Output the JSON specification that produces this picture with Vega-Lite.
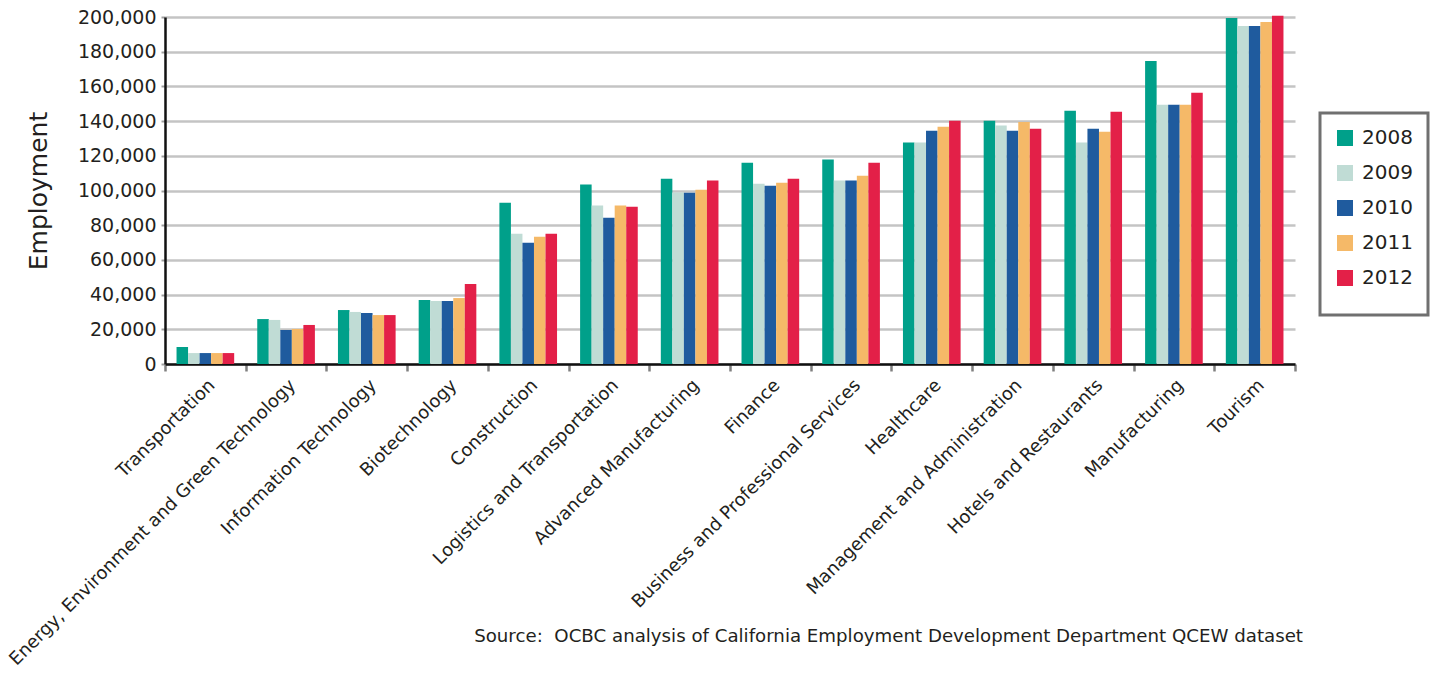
{
  "$schema": "https://vega.github.io/schema/vega-lite/v6.json",
  "autosize": "none",
  "width": 1130,
  "height": 347,
  "padding": {"left": 165, "top": 17, "right": 137, "bottom": 311},
  "background": "white",
  "config": {
    "font": "DejaVu Sans",
    "view": {"stroke": null}
  },
  "title": {
    "text": "Source:\u00a0 OCBC analysis of California Employment Development Department QCEW dataset",
    "orient": "bottom",
    "anchor": "end",
    "frame": "group",
    "offset": -41,
    "dx": 8,
    "fontSize": 18.2,
    "fontWeight": "normal",
    "color": "#231f20",
    "font": "DejaVu Sans"
  },
  "data": {
    "values": [
      {"sector": "Transportation", "year": "2008", "jobs": 9800},
      {"sector": "Transportation", "year": "2009", "jobs": 6300},
      {"sector": "Transportation", "year": "2010", "jobs": 6300},
      {"sector": "Transportation", "year": "2011", "jobs": 6300},
      {"sector": "Transportation", "year": "2012", "jobs": 6300},
      {"sector": "Energy, Environment and Green Technology", "year": "2008", "jobs": 25900},
      {"sector": "Energy, Environment and Green Technology", "year": "2009", "jobs": 25400},
      {"sector": "Energy, Environment and Green Technology", "year": "2010", "jobs": 19600},
      {"sector": "Energy, Environment and Green Technology", "year": "2011", "jobs": 20200},
      {"sector": "Energy, Environment and Green Technology", "year": "2012", "jobs": 22500},
      {"sector": "Information Technology", "year": "2008", "jobs": 31100},
      {"sector": "Information Technology", "year": "2009", "jobs": 30000},
      {"sector": "Information Technology", "year": "2010", "jobs": 29400},
      {"sector": "Information Technology", "year": "2011", "jobs": 28200},
      {"sector": "Information Technology", "year": "2012", "jobs": 28200},
      {"sector": "Biotechnology", "year": "2008", "jobs": 36900},
      {"sector": "Biotechnology", "year": "2009", "jobs": 36300},
      {"sector": "Biotechnology", "year": "2010", "jobs": 36300},
      {"sector": "Biotechnology", "year": "2011", "jobs": 38000},
      {"sector": "Biotechnology", "year": "2012", "jobs": 46100},
      {"sector": "Construction", "year": "2008", "jobs": 93000},
      {"sector": "Construction", "year": "2009", "jobs": 75100},
      {"sector": "Construction", "year": "2010", "jobs": 69900},
      {"sector": "Construction", "year": "2011", "jobs": 73400},
      {"sector": "Construction", "year": "2012", "jobs": 75100},
      {"sector": "Logistics and Transportation", "year": "2008", "jobs": 103400},
      {"sector": "Logistics and Transportation", "year": "2009", "jobs": 91300},
      {"sector": "Logistics and Transportation", "year": "2010", "jobs": 84300},
      {"sector": "Logistics and Transportation", "year": "2011", "jobs": 91300},
      {"sector": "Logistics and Transportation", "year": "2012", "jobs": 90700},
      {"sector": "Advanced Manufacturing", "year": "2008", "jobs": 106800},
      {"sector": "Advanced Manufacturing", "year": "2009", "jobs": 98900},
      {"sector": "Advanced Manufacturing", "year": "2010", "jobs": 98700},
      {"sector": "Advanced Manufacturing", "year": "2011", "jobs": 100500},
      {"sector": "Advanced Manufacturing", "year": "2012", "jobs": 105700},
      {"sector": "Finance", "year": "2008", "jobs": 116000},
      {"sector": "Finance", "year": "2009", "jobs": 103900},
      {"sector": "Finance", "year": "2010", "jobs": 102800},
      {"sector": "Finance", "year": "2011", "jobs": 104500},
      {"sector": "Finance", "year": "2012", "jobs": 106800},
      {"sector": "Business and Professional Services", "year": "2008", "jobs": 117800},
      {"sector": "Business and Professional Services", "year": "2009", "jobs": 105700},
      {"sector": "Business and Professional Services", "year": "2010", "jobs": 105700},
      {"sector": "Business and Professional Services", "year": "2011", "jobs": 108500},
      {"sector": "Business and Professional Services", "year": "2012", "jobs": 116000},
      {"sector": "Healthcare", "year": "2008", "jobs": 127600},
      {"sector": "Healthcare", "year": "2009", "jobs": 127600},
      {"sector": "Healthcare", "year": "2010", "jobs": 134500},
      {"sector": "Healthcare", "year": "2011", "jobs": 136800},
      {"sector": "Healthcare", "year": "2012", "jobs": 140200},
      {"sector": "Management and Administration", "year": "2008", "jobs": 140200},
      {"sector": "Management and Administration", "year": "2009", "jobs": 137400},
      {"sector": "Management and Administration", "year": "2010", "jobs": 134500},
      {"sector": "Management and Administration", "year": "2011", "jobs": 139500},
      {"sector": "Management and Administration", "year": "2012", "jobs": 135600},
      {"sector": "Hotels and Restaurants", "year": "2008", "jobs": 146000},
      {"sector": "Hotels and Restaurants", "year": "2009", "jobs": 127600},
      {"sector": "Hotels and Restaurants", "year": "2010", "jobs": 135600},
      {"sector": "Hotels and Restaurants", "year": "2011", "jobs": 133900},
      {"sector": "Hotels and Restaurants", "year": "2012", "jobs": 145400},
      {"sector": "Manufacturing", "year": "2008", "jobs": 174700},
      {"sector": "Manufacturing", "year": "2009", "jobs": 149400},
      {"sector": "Manufacturing", "year": "2010", "jobs": 149400},
      {"sector": "Manufacturing", "year": "2011", "jobs": 149400},
      {"sector": "Manufacturing", "year": "2012", "jobs": 156300},
      {"sector": "Tourism", "year": "2008", "jobs": 199400},
      {"sector": "Tourism", "year": "2009", "jobs": 194800},
      {"sector": "Tourism", "year": "2010", "jobs": 194800},
      {"sector": "Tourism", "year": "2011", "jobs": 197100},
      {"sector": "Tourism", "year": "2012", "jobs": 200700}
    ]
  },
  "mark": {"type": "bar", "clip": false},
  "encoding": {
    "x": {
      "field": "sector",
      "type": "nominal",
      "sort": null,
      "scale": {"paddingInner": 0, "paddingOuter": 0},
      "axis": {
        "title": null,
        "labelAngle": -45,
        "labelAlign": "right",
        "labelBaseline": "top",
        "labelFontSize": 18,
        "labelColor": "#231f20",
        "labelPadding": 5,
        "labelLimit": 600,
        "tickBand": "extent",
        "tickColor": "#808080",
        "tickSize": 7,
        "tickWidth": 2.5,
        "domainColor": "#111111",
        "domainWidth": 2.5,
        "grid": false
      }
    },
    "xOffset": {
      "field": "year",
      "type": "nominal",
      "scale": {"paddingInner": 0, "paddingOuter": 1.04}
    },
    "y": {
      "field": "jobs",
      "type": "quantitative",
      "scale": {"domain": [0, 200000], "nice": false},
      "axis": {
        "title": "Employment",
        "titleFontSize": 25,
        "titleFontWeight": "normal",
        "titleColor": "#231f20",
        "titlePadding": 26,
        "values": [0, 20000, 40000, 60000, 80000, 100000, 120000, 140000, 160000, 180000, 200000],
        "format": ",d",
        "labelFontSize": 19,
        "labelColor": "#231f20",
        "labelPadding": 5,
        "tickColor": "#a0a0a0",
        "tickSize": 4,
        "tickWidth": 2,
        "domainColor": "#111111",
        "domainWidth": 2.5,
        "grid": true,
        "gridColor": "#c4c4c4",
        "gridWidth": 2.4
      }
    },
    "color": {
      "field": "year",
      "type": "nominal",
      "scale": {
        "domain": ["2008", "2009", "2010", "2011", "2012"],
        "range": ["#00a08a", "#c0dcd5", "#1f5b9e", "#f5b968", "#e32048"]
      },
      "legend": {
        "title": " ",
        "titleOrient": "bottom",
        "titleFontSize": 10,
        "titlePadding": 2,
        "orient": "none",
        "legendX": 1155,
        "legendY": 96,
        "symbolType": "square",
        "symbolSize": 256,
        "symbolStrokeWidth": 0,
        "labelFontSize": 20,
        "labelColor": "#231f20",
        "labelOffset": 7,
        "rowPadding": 15,
        "padding": 15,
        "strokeColor": "#707070",
        "fillColor": "white",
        "encode": {
          "legend": {"update": {"strokeWidth": {"value": 3}}}
        }
      }
    }
  }
}
